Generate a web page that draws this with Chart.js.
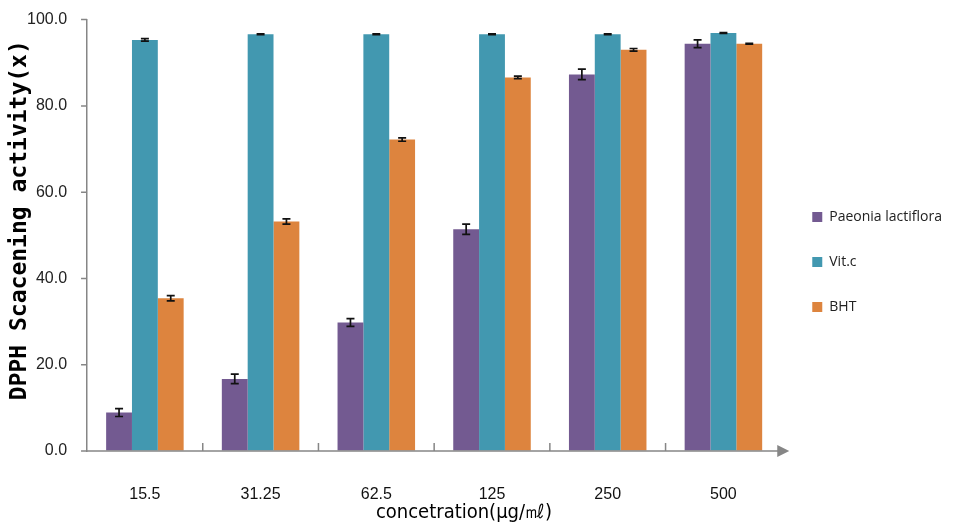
<!DOCTYPE html>
<html>
<head>
<meta charset="utf-8">
<script src="https://cdn.jsdelivr.net/npm/chart.js@4"></script>
<style>
  html, body { margin: 0; padding: 0; background: #fff; }
  #wrap { width: 953px; height: 528px; }
</style>
</head>
<body>
<div id="wrap"><canvas id="chart" width="953" height="528"></canvas></div>
<script>
const categories = ['15.5', '31.25', '62.5', '125', '250', '500'];
const paeonia = [8.9, 16.7, 29.8, 51.4, 87.3, 94.4];
const paeoniaErr = [0.9, 1.1, 0.9, 1.2, 1.2, 0.9];
const vitc = [95.3, 96.6, 96.6, 96.6, 96.6, 96.9];
const vitcErr = [0.3, 0.1, 0.1, 0.1, 0.1, 0.1];
const bht = [35.4, 53.2, 72.2, 86.6, 93.0, 94.4];
const bhtErr = [0.6, 0.6, 0.4, 0.3, 0.3, 0.1];

const xTitle = 'concetration(μg/㎖)';
const yTitle = 'DPPH Scacening activity(x)';

const errors = [paeoniaErr, vitcErr, bhtErr];

// error bars drawn on top of each bar
const errorBars = {
  id: 'errorBars',
  afterDatasetsDraw(chart) {
    const ctx = chart.ctx;
    const y = chart.scales.y;
    ctx.save();
    ctx.strokeStyle = '#111';
    ctx.lineWidth = 1.7;
    chart.data.datasets.forEach((ds, i) => {
      const meta = chart.getDatasetMeta(i);
      meta.data.forEach((bar, j) => {
        const v = ds.data[j], e = errors[i][j];
        const top = y.getPixelForValue(v + e);
        const bot = y.getPixelForValue(v - e);
        ctx.beginPath();
        ctx.moveTo(bar.x, top); ctx.lineTo(bar.x, bot);
        ctx.moveTo(bar.x - 4, top); ctx.lineTo(bar.x + 4, top);
        ctx.moveTo(bar.x - 4, bot); ctx.lineTo(bar.x + 4, bot);
        ctx.stroke();
      });
    });
    ctx.restore();
  }
};

// axis extras: x axis arrow, inside category ticks, short y ticks, axis titles
const axisExtras = {
  id: 'axisExtras',
  afterDraw(chart) {
    const ctx = chart.ctx;
    const a = chart.chartArea;
    const x = chart.scales.x;
    const y = chart.scales.y;
    ctx.save();
    ctx.strokeStyle = '#868686';
    ctx.fillStyle = '#868686';
    ctx.lineWidth = 1.5;
    ctx.beginPath();
    ctx.moveTo(a.left, a.bottom); ctx.lineTo(a.right, a.bottom);
    for (let i = 1; i < categories.length; i++) {
      const px = (x.getPixelForValue(i - 1) + x.getPixelForValue(i)) / 2;
      ctx.moveTo(px, a.bottom); ctx.lineTo(px, a.bottom - 8);
    }
    y.ticks.forEach((t) => {
      const py = y.getPixelForValue(t.value);
      ctx.moveTo(a.left - 6, py); ctx.lineTo(a.left, py);
    });
    ctx.stroke();
    ctx.beginPath();
    ctx.moveTo(a.right + 8, a.bottom);
    ctx.lineTo(a.right - 4, a.bottom - 6);
    ctx.lineTo(a.right - 4, a.bottom + 6);
    ctx.closePath();
    ctx.fill();

    ctx.fillStyle = '#000';
    ctx.textAlign = 'center';
    ctx.textBaseline = 'middle';
    ctx.font = '20px "DejaVu Sans Condensed"';
    ctx.fillText(xTitle, a.left + (a.right - a.left) * 0.543, x.bottom - 11);

    ctx.translate(20, a.top + (a.bottom - a.top) * 0.465);
    ctx.rotate(-Math.PI / 2);
    ctx.font = 'bold 23px "DejaVu Sans Mono"';
    ctx.fillText(yTitle, 0, 0);
    ctx.restore();
  }
};

new Chart(document.getElementById('chart'), {
  type: 'bar',
  data: {
    labels: categories,
    datasets: [
      { label: 'Paeonia lactiflora', data: paeonia, backgroundColor: '#735A91' },
      { label: 'Vit.c', data: vitc, backgroundColor: '#4298B0' },
      { label: 'BHT', data: bht, backgroundColor: '#DD843E' },
    ],
  },
  options: {
    responsive: false,
    animation: false,
    layout: { padding: { top: 0.4, right: 1, bottom: 4.4, left: 17 } },
    datasets: { bar: { categoryPercentage: 0.67, barPercentage: 1.0 } },
    scales: {
      x: {
        grid: { display: false, drawTicks: false },
        border: { display: false },
        ticks: { color: '#111', padding: 34, font: { family: 'Liberation Sans', size: 16 } },
        // empty title only reserves the room; the text itself is drawn by axisExtras
        title: {
          display: true,
          text: '',
          padding: { top: -35.2, bottom: -3.4 },
          font: { family: 'DejaVu Sans Condensed', size: 20 },
        },
      },
      y: {
        min: 0,
        max: 100,
        grid: { drawOnChartArea: false, drawTicks: true, tickLength: 10, tickColor: 'rgba(0,0,0,0)' },
        border: { color: '#868686', width: 1.5 },
        ticks: {
          stepSize: 20,
          color: '#222',
          padding: 10,
          font: { family: 'Liberation Sans', size: 16 },
          callback: (v) => Number(v).toFixed(1),
        },
        title: { display: false },
      },
    },
    plugins: {
      legend: {
        position: 'right',
        labels: {
          boxWidth: 10,
          boxHeight: 10,
          padding: 31,
          color: '#222',
          font: { family: 'Open Sans', size: 14 },
        },
      },
      tooltip: { enabled: false },
    },
  },
  plugins: [errorBars, axisExtras],
});
</script>
</body>
</html>
